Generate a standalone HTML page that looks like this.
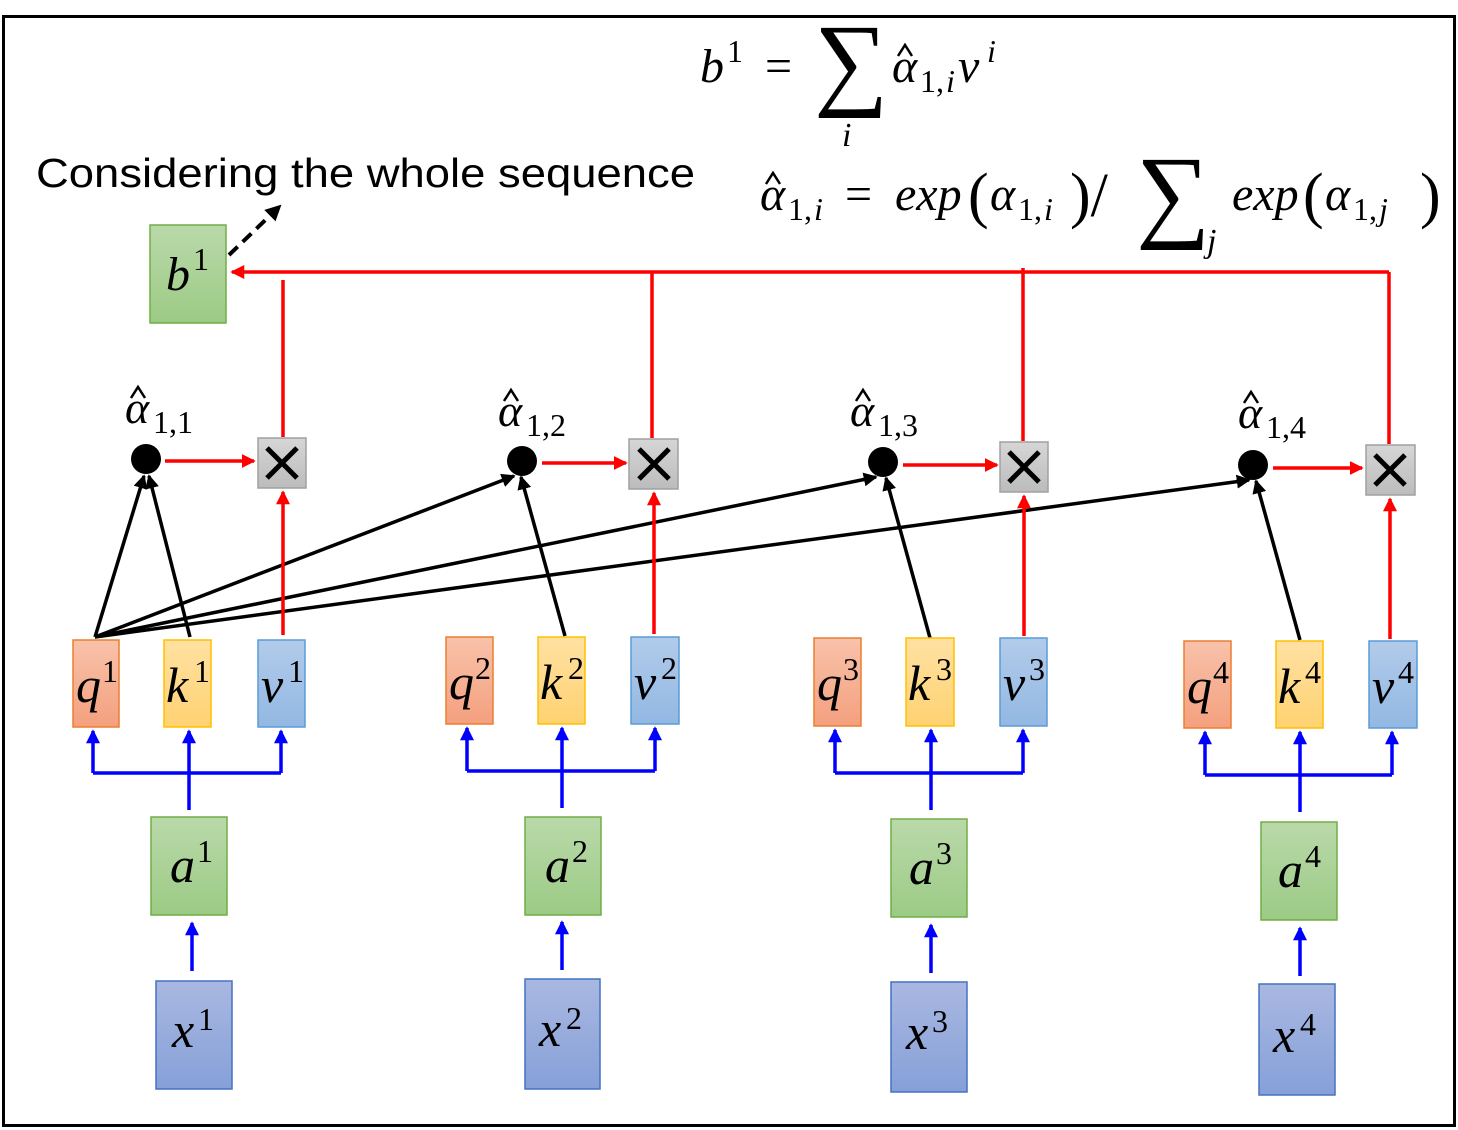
<!DOCTYPE html>
<html><head><meta charset="utf-8"><style>
html,body{margin:0;padding:0;background:#fff}
svg{display:block}
.m{font-family:"Liberation Serif",serif;font-style:italic}
.n{font-family:"Liberation Serif",serif;font-style:normal}
</style></head><body>
<svg width="1458" height="1130" viewBox="0 0 1458 1130" xmlns="http://www.w3.org/2000/svg">
<defs>
<linearGradient id="gq" x1="0" y1="0" x2="0" y2="1"><stop offset="0" stop-color="#f8c2aa"/><stop offset="1" stop-color="#f4a07e"/></linearGradient>
<linearGradient id="gk" x1="0" y1="0" x2="0" y2="1"><stop offset="0" stop-color="#ffe1a2"/><stop offset="1" stop-color="#ffd272"/></linearGradient>
<linearGradient id="gv" x1="0" y1="0" x2="0" y2="1"><stop offset="0" stop-color="#b2cbea"/><stop offset="1" stop-color="#92b8e3"/></linearGradient>
<linearGradient id="ga" x1="0" y1="0" x2="0" y2="1"><stop offset="0" stop-color="#bad9aa"/><stop offset="1" stop-color="#9ccb85"/></linearGradient>
<linearGradient id="gx" x1="0" y1="0" x2="0" y2="1"><stop offset="0" stop-color="#a9b8e1"/><stop offset="1" stop-color="#86a0d8"/></linearGradient>
<linearGradient id="gg" x1="0" y1="0" x2="0" y2="1"><stop offset="0" stop-color="#d6d6d6"/><stop offset="1" stop-color="#bcbcbc"/></linearGradient>
<marker id="ab" markerWidth="4" markerHeight="4" refX="3.5" refY="2" orient="auto" markerUnits="strokeWidth"><path d="M0,0 L4,2 L0,4 z" fill="#0000ff"/></marker>
<marker id="ar" markerWidth="4" markerHeight="4" refX="3.5" refY="2" orient="auto" markerUnits="strokeWidth"><path d="M0,0 L4,2 L0,4 z" fill="#ff0000"/></marker>
<marker id="ak" markerWidth="4" markerHeight="4" refX="3.5" refY="2" orient="auto" markerUnits="strokeWidth"><path d="M0,0 L4,2 L0,4 z" fill="#000"/></marker>
</defs>
<rect x="3.5" y="16.5" width="1451" height="1109" fill="#fff" stroke="#000" stroke-width="3"/>

<!-- formulas -->
<text class="m" x="700" y="82" font-size="48">b</text><text class="n" x="727" y="62" font-size="32">1</text>
<text class="n" x="765" y="82" font-size="48">=</text>
<text class="n" x="814" y="96" font-size="104">∑</text>
<text class="m" x="842" y="146" font-size="34">i</text>
<text class="m" x="892" y="82" font-size="48">α</text><path d="M898,56 L905,45 L912,56" fill="none" stroke="#000" stroke-width="2.5"/>
<text class="n" x="920" y="92" font-size="32">1,</text><text class="m" x="946" y="92" font-size="32">i</text>
<text class="m" x="958" y="82" font-size="48">v</text><text class="m" x="987" y="62" font-size="32">i</text>

<text x="36" y="187" font-family="Liberation Sans, sans-serif" font-size="41" textLength="659" lengthAdjust="spacingAndGlyphs">Considering the whole sequence</text>

<text class="m" x="760" y="210" font-size="48">α</text><path d="M766,184 L773,173 L780,184" fill="none" stroke="#000" stroke-width="2.5"/>
<text class="n" x="788" y="220" font-size="32">1,</text><text class="m" x="814" y="220" font-size="32">i</text>
<text class="n" x="845" y="210" font-size="48">=</text>
<text class="m" x="895" y="210" font-size="48">exp</text><text class="n" x="968" y="216" font-size="62">(</text>
<text class="m" x="990" y="210" font-size="48">α</text><text class="n" x="1018" y="220" font-size="32">1,</text><text class="m" x="1044" y="220" font-size="32">i</text>
<text class="n" x="1070" y="216" font-size="62">)/</text>
<text class="n" x="1136" y="228" font-size="104">∑</text>
<text class="m" x="1207" y="252" font-size="34">j</text>
<text class="m" x="1232" y="210" font-size="48">exp</text><text class="n" x="1303" y="216" font-size="62">(</text>
<text class="m" x="1325" y="210" font-size="48">α</text><text class="n" x="1353" y="220" font-size="32">1,</text><text class="m" x="1379" y="220" font-size="32">j</text>
<text class="n" x="1420" y="216" font-size="62">)</text>

<!-- b1 -->
<rect x="150" y="225" width="76" height="98" fill="url(#ga)" stroke="#70ad47" stroke-width="1.5"/>
<text class="m" x="166" y="290" font-size="48">b</text><text class="n" x="193" y="270" font-size="32">1</text>
<line x1="229" y1="255" x2="280" y2="206" stroke="#000" stroke-width="4" stroke-dasharray="12,7" marker-end="url(#ak)"/>

<!-- red top network -->
<line x1="1389" y1="272" x2="232" y2="272" stroke="#f00" stroke-width="3.5" marker-end="url(#ar)"/>
<line x1="283" y1="437" x2="283" y2="280" stroke="#f00" stroke-width="3.5"/>
<line x1="652" y1="438" x2="652" y2="272" stroke="#f00" stroke-width="3.5"/>
<line x1="1023" y1="441" x2="1023" y2="268" stroke="#f00" stroke-width="3.5"/>
<line x1="1389" y1="444" x2="1389" y2="272" stroke="#f00" stroke-width="3.5"/>

<!-- black lines -->
<g stroke="#000" stroke-width="3.5" fill="none">
<line x1="95" y1="637" x2="144" y2="476" marker-end="url(#ak)"/>
<line x1="95" y1="637" x2="514" y2="476" marker-end="url(#ak)"/>
<line x1="95" y1="637" x2="876" y2="477" marker-end="url(#ak)"/>
<line x1="95" y1="637" x2="1249" y2="480" marker-end="url(#ak)"/>
<line x1="190" y1="637" x2="149" y2="476" marker-end="url(#ak)"/>
<line x1="565" y1="636" x2="521" y2="477" marker-end="url(#ak)"/>
<line x1="930" y1="638" x2="886" y2="478" marker-end="url(#ak)"/>
<line x1="1300" y1="640" x2="1256" y2="481" marker-end="url(#ak)"/>
</g>

<circle cx="146" cy="459" r="15" fill="#000"/>
<circle cx="522" cy="461" r="15" fill="#000"/>
<circle cx="883" cy="462" r="15" fill="#000"/>
<circle cx="1253" cy="465" r="15" fill="#000"/>

<g class="m" font-size="46">
<text x="125" y="423">α</text><text x="498" y="426">α</text><text x="850" y="426">α</text><text x="1238" y="428">α</text>
</g>
<g fill="none" stroke="#000" stroke-width="2.5">
<path d="M131,398 L138,387 L145,398"/><path d="M504,401 L511,390 L518,401"/><path d="M856,401 L863,390 L870,401"/><path d="M1244,403 L1251,392 L1258,403"/>
</g>
<g class="n" font-size="32">
<text x="153" y="433">1,1</text><text x="526" y="436">1,2</text><text x="878" y="436">1,3</text><text x="1266" y="438">1,4</text>
</g>

<g stroke="#f00" stroke-width="3.5">
<line x1="165" y1="461" x2="254" y2="461" marker-end="url(#ar)"/>
<line x1="542" y1="463" x2="626" y2="463" marker-end="url(#ar)"/>
<line x1="903" y1="465" x2="997" y2="465" marker-end="url(#ar)"/>
<line x1="1273" y1="468" x2="1362" y2="468" marker-end="url(#ar)"/>
<line x1="283" y1="635" x2="283" y2="492" marker-end="url(#ar)"/>
<line x1="654" y1="634" x2="654" y2="493" marker-end="url(#ar)"/>
<line x1="1024" y1="636" x2="1024" y2="496" marker-end="url(#ar)"/>
<line x1="1390" y1="639" x2="1390" y2="499" marker-end="url(#ar)"/>
</g>
<g fill="url(#gg)" stroke="#a0a0a0" stroke-width="1.5">
<rect x="258" y="438" width="48" height="50"/>
<rect x="629" y="439" width="49" height="50"/>
<rect x="1000" y="442" width="48" height="50"/>
<rect x="1366" y="445" width="49" height="50"/>
</g>
<g stroke="#000" stroke-width="5">
<path d="M267,448 L297,478 M297,448 L267,478"/>
<path d="M639,449 L669,479 M669,449 L639,479"/>
<path d="M1009,452 L1039,482 M1039,452 L1009,482"/>
<path d="M1375,455 L1405,485 M1405,455 L1375,485"/>
</g>

<!-- q k v boxes -->
<g stroke-width="1.5">
<rect x="73" y="640" width="46" height="87" fill="url(#gq)" stroke="#ed7d31"/>
<rect x="164" y="640" width="47" height="87" fill="url(#gk)" stroke="#ffc000"/>
<rect x="258" y="640" width="47" height="87" fill="url(#gv)" stroke="#5b9bd5"/>
<rect x="446" y="637" width="47" height="87" fill="url(#gq)" stroke="#ed7d31"/>
<rect x="538" y="637" width="47" height="87" fill="url(#gk)" stroke="#ffc000"/>
<rect x="631" y="637" width="48" height="87" fill="url(#gv)" stroke="#5b9bd5"/>
<rect x="814" y="638" width="47" height="88" fill="url(#gq)" stroke="#ed7d31"/>
<rect x="906" y="638" width="48" height="88" fill="url(#gk)" stroke="#ffc000"/>
<rect x="1000" y="638" width="47" height="88" fill="url(#gv)" stroke="#5b9bd5"/>
<rect x="1184" y="641" width="47" height="87" fill="url(#gq)" stroke="#ed7d31"/>
<rect x="1276" y="641" width="47" height="87" fill="url(#gk)" stroke="#ffc000"/>
<rect x="1369" y="641" width="48" height="87" fill="url(#gv)" stroke="#5b9bd5"/>
</g>
<g class="m" font-size="50">
<text x="76" y="702">q</text><text x="166" y="702">k</text><text x="261" y="702">v</text>
<text x="449" y="699">q</text><text x="540" y="699">k</text><text x="634" y="699">v</text>
<text x="817" y="700">q</text><text x="908" y="700">k</text><text x="1003" y="700">v</text>
<text x="1187" y="703">q</text><text x="1278" y="703">k</text><text x="1372" y="703">v</text>
</g>
<g class="n" font-size="32">
<text x="102" y="682">1</text><text x="194" y="682">1</text><text x="288" y="682">1</text>
<text x="475" y="679">2</text><text x="568" y="679">2</text><text x="661" y="679">2</text>
<text x="843" y="680">3</text><text x="936" y="680">3</text><text x="1029" y="680">3</text>
<text x="1213" y="683">4</text><text x="1305" y="683">4</text><text x="1398" y="683">4</text>
</g>

<!-- blue connectors -->
<g stroke="#0000ff" stroke-width="3.5" fill="none">
<polyline points="93,773 281,773"/><line x1="189" y1="810" x2="189" y2="773"/>
<line x1="93" y1="773" x2="93" y2="731" marker-end="url(#ab)"/><line x1="189" y1="773" x2="189" y2="731" marker-end="url(#ab)"/><line x1="281" y1="773" x2="281" y2="731" marker-end="url(#ab)"/>
<polyline points="467,771 655,771"/><line x1="562" y1="808" x2="562" y2="771"/>
<line x1="467" y1="771" x2="467" y2="728" marker-end="url(#ab)"/><line x1="562" y1="771" x2="562" y2="728" marker-end="url(#ab)"/><line x1="655" y1="771" x2="655" y2="728" marker-end="url(#ab)"/>
<polyline points="835,773 1023,773"/><line x1="931" y1="810" x2="931" y2="773"/>
<line x1="835" y1="773" x2="835" y2="730" marker-end="url(#ab)"/><line x1="931" y1="773" x2="931" y2="730" marker-end="url(#ab)"/><line x1="1023" y1="773" x2="1023" y2="730" marker-end="url(#ab)"/>
<polyline points="1205,775 1392,775"/><line x1="1300" y1="812" x2="1300" y2="775"/>
<line x1="1205" y1="775" x2="1205" y2="732" marker-end="url(#ab)"/><line x1="1300" y1="775" x2="1300" y2="732" marker-end="url(#ab)"/><line x1="1392" y1="775" x2="1392" y2="732" marker-end="url(#ab)"/>
<line x1="192" y1="971" x2="192" y2="923" marker-end="url(#ab)"/>
<line x1="562" y1="970" x2="562" y2="922" marker-end="url(#ab)"/>
<line x1="931" y1="973" x2="931" y2="925" marker-end="url(#ab)"/>
<line x1="1300" y1="976" x2="1300" y2="928" marker-end="url(#ab)"/>
</g>

<!-- a and x boxes -->
<g stroke-width="1.5">
<rect x="151" y="817" width="76" height="98" fill="url(#ga)" stroke="#70ad47"/>
<rect x="525" y="817" width="76" height="98" fill="url(#ga)" stroke="#70ad47"/>
<rect x="891" y="819" width="76" height="98" fill="url(#ga)" stroke="#70ad47"/>
<rect x="1261" y="822" width="76" height="98" fill="url(#ga)" stroke="#70ad47"/>
<rect x="156" y="981" width="76" height="108" fill="url(#gx)" stroke="#4472c4"/>
<rect x="525" y="979" width="75" height="110" fill="url(#gx)" stroke="#4472c4"/>
<rect x="891" y="982" width="76" height="110" fill="url(#gx)" stroke="#4472c4"/>
<rect x="1259" y="984" width="76" height="111" fill="url(#gx)" stroke="#4472c4"/>
</g>
<g class="m" font-size="50">
<text x="170" y="882">a</text><text x="545" y="882">a</text><text x="909" y="884">a</text><text x="1278" y="887">a</text>
<text x="172" y="1047">x</text><text x="539" y="1046">x</text><text x="906" y="1049">x</text><text x="1273" y="1052">x</text>
</g>
<g class="n" font-size="32">
<text x="197" y="862">1</text><text x="572" y="862">2</text><text x="936" y="864">3</text><text x="1305" y="867">4</text>
<text x="198" y="1030">1</text><text x="566" y="1029">2</text><text x="932" y="1032">3</text><text x="1300" y="1035">4</text>
</g>
</svg>
</body></html>
